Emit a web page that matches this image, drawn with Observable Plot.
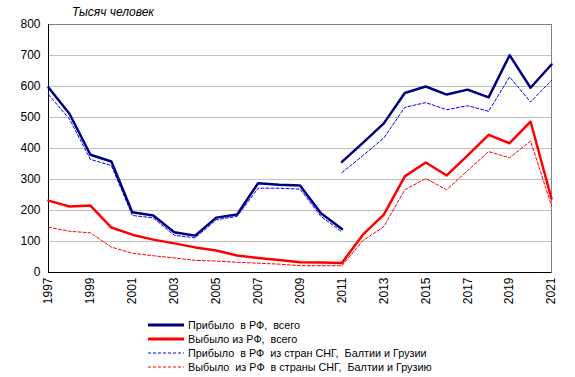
<!DOCTYPE html>
<html><head><meta charset="utf-8">
<script src="https://cdn.jsdelivr.net/npm/d3@7"></script>
<script src="https://cdn.jsdelivr.net/npm/@observablehq/plot@0.6"></script>
<style>
body{margin:0;background:#fff;font-family:"Liberation Sans",Arial,sans-serif;}
#wrap{position:relative;width:575px;height:377px;}
#title{position:absolute;left:72px;top:5px;font-size:12px;font-style:italic;}
#legend{position:absolute;left:148px;top:318px;font-size:10.8px;line-height:14px;}
.row{display:flex;align-items:center;white-space:pre;height:14px;}
.row svg{margin-right:4px;}
</style></head>
<body><div id="wrap"><div id="title">Тысяч человек</div><div id="chart"></div><div id="legend"></div></div>
<script>
const yearsOld = [1997,1998,1999,2000,2001,2002,2003,2004,2005,2006,2007,2008,2009,2010,2011];
const yearsNew = [2011,2012,2013,2014,2015,2016,2017,2018,2019,2020,2021];
const yearsAll = [1997,1998,1999,2000,2001,2002,2003,2004,2005,2006,2007,2008,2009,2010,2011,2012,2013,2014,2015,2016,2017,2018,2019,2020,2021];
const arrivalsOld = [597,512,380,358,194,184,130,119,177,187,288,283,281,191,140];
const arrivalsNew = [357,418,481,579,600,574,590,565,701,596,671];
const arrivalsCisOld = [574,495,365,345,184,176,120,112,170,181,272,272,269,181,131];
const arrivalsCisNew = [322,377,434,533,548,525,538,520,631,550,620];
const departures = [232,213,216,145,122,106,94,81,71,55,47,40,33,32,31,122,187,310,355,313,378,444,417,487,238];
const departuresCis = [146,133,128,82,62,54,47,39,37,33,30,27,22,22,22,103,148,267,303,267,329,390,370,424,216];
const yTicks = [0,100,200,300,400,500,600,700,800];
const xTicks = [1997,1999,2001,2003,2005,2007,2009,2011,2013,2015,2017,2019,2021];
const legendLabels = ["Прибыло  в РФ,  всего","Выбыло из РФ,  всего","Прибыло  в РФ  из стран СНГ,  Балтии и Грузии","Выбыло  из РФ  в страны СНГ,  Балтии и Грузию"];

const seg = (xs, ys, s) => xs.map((x,i)=>({x, y: ys[i], s}));
const arrTotal = [...seg(yearsOld, arrivalsOld, "a"), ...seg(yearsNew, arrivalsNew, "b")];
const arrCis = [...seg(yearsOld, arrivalsCisOld, "a"), ...seg(yearsNew, arrivalsCisNew, "b")];
const depTotal = seg(yearsAll, departures, "a");
const depCis = seg(yearsAll, departuresCis, "a");

const chart = Plot.plot({
  width: 575, height: 312,
  marginLeft: 48, marginRight: 24, marginTop: 24, marginBottom: 40,
  style: {fontFamily: '"Liberation Sans", Arial, sans-serif', fontSize: "12px", color: "#000"},
  x: {domain: [1997, 2021]},
  y: {domain: [0, 800]},
  marks: [
    Plot.gridY(yTicks, {stroke: "#c0c0c0", strokeOpacity: 1}),
    Plot.frame({stroke: "#808080"}),
    Plot.ruleX([1997], {stroke: "#000"}),
    Plot.ruleY([0], {stroke: "#000"}),
    Plot.axisY(yTicks, {tickSize: 0, tickPadding: 8, label: null, fontSize: 12}),
    Plot.axisX(xTicks, {tickSize: 0, tickPadding: 5, tickRotate: -90, tickFormat: d => String(d), label: null, fontSize: 12}),
    Plot.line(depCis, {x: "x", y: "y", z: "s", stroke: "#ff0000", strokeWidth: 1, strokeDasharray: "3,2"}),
    Plot.line(arrCis, {x: "x", y: "y", z: "s", stroke: "#0000ff", strokeWidth: 1, strokeDasharray: "3,2"}),
    Plot.line(depTotal, {x: "x", y: "y", z: "s", stroke: "#ff0000", strokeWidth: 2.5}),
    Plot.line(arrTotal, {x: "x", y: "y", z: "s", stroke: "#000080", strokeWidth: 2.5})
  ]
});
document.getElementById("chart").appendChild(chart);

const styles = [
  {c:"#000080", w:3, d:null},
  {c:"#ff0000", w:3, d:null},
  {c:"#0000ff", w:1, d:"3,2"},
  {c:"#ff0000", w:1, d:"3,2"}
];
const leg = document.getElementById("legend");
legendLabels.forEach((t,i)=>{
  const st = styles[i];
  const row = document.createElement("div"); row.className="row";
  row.innerHTML = `<svg width="36" height="14"><line x1="0" x2="36" y1="7" y2="7" stroke="${st.c}" stroke-width="${st.w}" ${st.d?`stroke-dasharray="${st.d}"`:""}/></svg><span>${t}</span>`;
  leg.appendChild(row);
});
</script></body></html>
